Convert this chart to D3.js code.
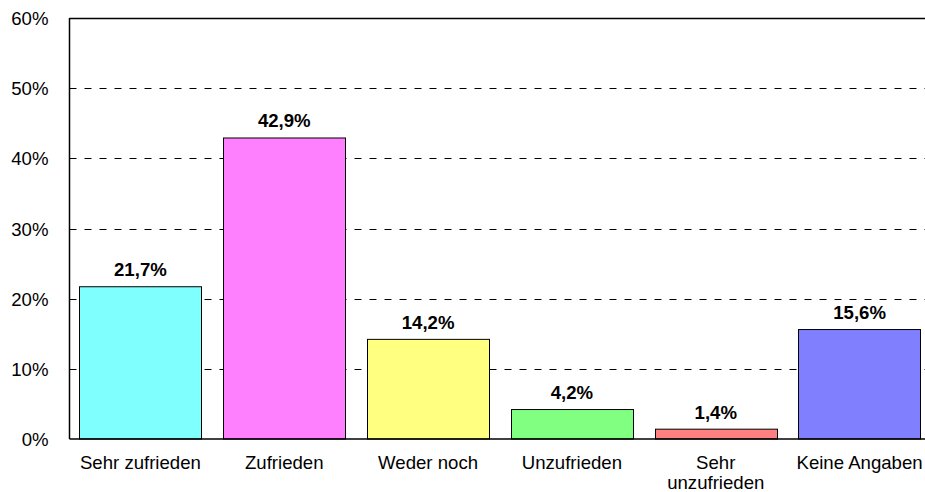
<!DOCTYPE html>
<html>
<head>
<meta charset="utf-8">
<script src="https://cdn.jsdelivr.net/npm/d3@7"></script>
<style>
  html, body { margin: 0; padding: 0; background: #fff; }
  svg { display: block; }
  text { font-family: Arial, "Liberation Sans", sans-serif; fill: #000; }
</style>
</head>
<body>
<svg id="chart" width="925" height="492"></svg>
<script>
const categories = ["Sehr zufrieden", "Zufrieden", "Weder noch", "Unzufrieden", "Sehr unzufrieden", "Keine Angaben"];
const categoryLines = [["Sehr zufrieden"], ["Zufrieden"], ["Weder noch"], ["Unzufrieden"], ["Sehr", "unzufrieden"], ["Keine Angaben"]];
const values = [21.7, 42.9, 14.2, 4.2, 1.4, 15.6];
const valueLabels = ["21,7%", "42,9%", "14,2%", "4,2%", "1,4%", "15,6%"];
const colors = ["#80FFFF", "#FF80FF", "#FFFF80", "#80FF80", "#FF8080", "#8080FF"];
const yTicks = [0, 10, 20, 30, 40, 50, 60];
const yTickLabels = ["0%", "10%", "20%", "30%", "40%", "50%", "60%"];

(function () {
const svg = d3.select("#chart");
const mLeft = 69.5, mTop = 18, mBottom = 439, mRight = 930.5;
const fs = "18.6px";

const x = d3.scaleBand().domain(categories).range([mLeft, mRight]).paddingInner(0.15).paddingOuter(0.068);
const y = d3.scaleLinear().domain([0, 60]).range([mBottom, mTop]);

// gridlines
svg.append("g").selectAll("line")
  .data(yTicks.filter(t => t > 0 && t < 60))
  .join("line")
  .attr("x1", mLeft).attr("x2", mRight)
  .attr("y1", d => Math.round(y(d)) + 0.5).attr("y2", d => Math.round(y(d)) + 0.5)
  .attr("stroke", "#000").attr("stroke-width", 1)
  .attr("stroke-dasharray", "7,8");

// top border
svg.append("line")
  .attr("x1", mLeft).attr("x2", mRight)
  .attr("y1", y(60) + 0.5).attr("y2", y(60) + 0.5)
  .attr("stroke", "#000").attr("stroke-width", 1.3);

// bars
svg.append("g").selectAll("rect")
  .data(values)
  .join("rect")
  .attr("x", (d, i) => Math.round(x(categories[i])) + 0.5)
  .attr("width", Math.round(x.bandwidth()))
  .attr("y", d => y(d))
  .attr("height", d => mBottom - y(d))
  .attr("fill", (d, i) => colors[i])
  .attr("stroke", "#000").attr("stroke-width", 1);

// value labels
svg.append("g").selectAll("text")
  .data(values)
  .join("text")
  .attr("x", (d, i) => x(categories[i]) + x.bandwidth() / 2)
  .attr("y", d => y(d) - 10.5)
  .attr("text-anchor", "middle")
  .attr("font-weight", "bold")
  .attr("font-size", fs)
  .text((d, i) => valueLabels[i]);

// y axis line
svg.append("line")
  .attr("x1", mLeft).attr("x2", mLeft)
  .attr("y1", mTop).attr("y2", mBottom)
  .attr("stroke", "#000").attr("stroke-width", 1.5);

// x axis line
svg.append("line")
  .attr("x1", mLeft).attr("x2", mRight)
  .attr("y1", mBottom).attr("y2", mBottom)
  .attr("stroke", "#000").attr("stroke-width", 1.5);

// y tick labels
svg.append("g").selectAll("text")
  .data(yTicks)
  .join("text")
  .attr("x", 48.5)
  .attr("y", d => y(d))
  .attr("dy", "0.38em")
  .attr("text-anchor", "end")
  .attr("font-size", fs)
  .text((d, i) => yTickLabels[i]);

// category labels
const cat = svg.append("g").selectAll("text")
  .data(categories)
  .join("text")
  .attr("x", d => x(d) + x.bandwidth() / 2)
  .attr("y", 468.5)
  .attr("text-anchor", "middle")
  .attr("font-size", fs);
cat.each(function (d, i) {
  const t = d3.select(this);
  categoryLines[i].forEach((line, j) => {
    t.append("tspan")
      .attr("x", x(d) + x.bandwidth() / 2)
      .attr("dy", j === 0 ? 0 : 20)
      .text(line);
  });
});
})();
</script>
</body>
</html>
